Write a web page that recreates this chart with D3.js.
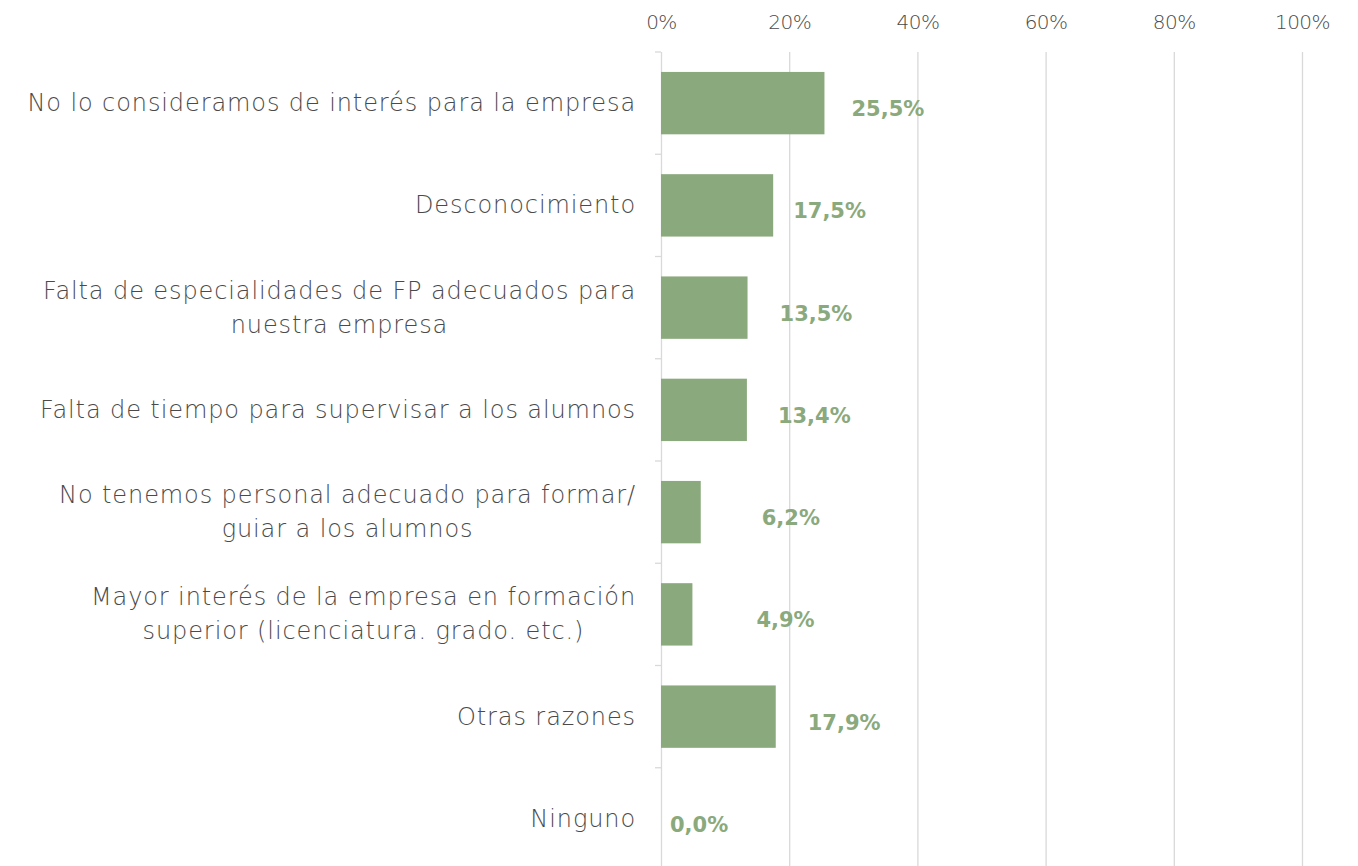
<!DOCTYPE html>
<html>
<head>
<meta charset="utf-8">
<script src="https://cdn.jsdelivr.net/npm/d3@7"></script>
<style>
  body { margin: 0; background: #fff; }
  svg { display: block; }
</style>
</head>
<body>
<svg></svg>
<script>
// Chart data
const categories = [
  "No lo consideramos de interés para la empresa",
  "Desconocimiento",
  "Falta de especialidades de FP adecuados para\nnuestra empresa",
  "Falta de tiempo para supervisar a los alumnos",
  "No tenemos personal adecuado para formar/\nguiar a los alumnos",
  "Mayor interés de la empresa en formación\nsuperior (licenciatura. grado. etc.)",
  "Otras razones",
  "Ninguno"
];
const values = [25.5, 17.5, 13.5, 13.4, 6.2, 4.9, 17.9, 0.0];
const xTicks = [0, 20, 40, 60, 80, 100];

// gap (px) between bar end and its label, labels were moved by hand in the original
const labelGap = [27, 20, 32, 31, 61, 64, 32, 9];

const width = 1358;
const height = 866;
const margin = { top: 52, right: 56, bottom: -4, left: 661 };

const font = "'Century Gothic', 'URW Gothic', 'DejaVu Sans', sans-serif";
const textColor = "#4a4a4a";
const gridColor = "#d9d9d9";
const barColor = "#8aa97c";

const svg = d3.select("svg").attr("width", width).attr("height", height);

// Scales
const x = d3.scaleLinear().domain([0, 100]).range([margin.left, width - margin.right]);
const y = d3
  .scaleBand()
  .domain(categories)
  .range([margin.top, height - margin.bottom])
  .paddingInner(0.39)
  .paddingOuter(0.195);

// Top axis with gridlines
const xAxis = svg
  .append("g")
  .attr("transform", `translate(0,${margin.top})`)
  .call(
    d3
      .axisTop(x)
      .tickValues(xTicks)
      .tickSize(-(height - margin.bottom - margin.top))
      .tickPadding(23)
      .tickFormat((d) => d + "%")
  );
xAxis.select(".domain").remove();
xAxis.selectAll(".tick line").attr("stroke", gridColor).attr("stroke-width", 1.3);
xAxis
  .selectAll(".tick text")
  .attr("fill", textColor)
  .style("font-family", font)
  .style("font-size", "20px")
  .style("font-weight", 200)
  .style("letter-spacing", "-0.5px");

// Left axis line with ticks at category boundaries
const gap = y.step() - y.bandwidth();
const bounds = categories.map((c) => y(c) - gap / 2);
bounds.push(y(categories[categories.length - 1]) + y.bandwidth() + gap / 2);
svg
  .append("g")
  .selectAll("line")
  .data(bounds)
  .join("line")
  .attr("x1", x(0) - 6)
  .attr("x2", x(0))
  .attr("y1", (d) => d)
  .attr("y2", (d) => d)
  .attr("stroke", gridColor)
  .attr("stroke-width", 1.3);

// Bars
svg
  .append("g")
  .selectAll("rect")
  .data(values)
  .join("rect")
  .attr("x", x(0))
  .attr("y", (d, i) => y(categories[i]))
  .attr("width", (d) => x(d) - x(0))
  .attr("height", y.bandwidth())
  .attr("fill", barColor);

// Value labels
svg
  .append("g")
  .selectAll("text")
  .data(values)
  .join("text")
  .attr("x", (d, i) => x(d) + labelGap[i])
  .attr("y", (d, i) => y(categories[i]) + y.bandwidth() / 2 + 13)
  .attr("fill", barColor)
  .style("font-family", font)
  .style("font-size", "21px")
  .style("font-weight", "bold")
  .text((d) => d.toFixed(1).replace(".", ",") + "%");

// Category labels: block right aligned at the axis, lines centred in the block
const lineHeight = 34;
const labelRight = x(0) - 25;
const catGroup = svg.append("g");
categories.forEach((c, i) => {
  const lines = c.split("\n");
  const t = catGroup
    .append("text")
    .attr("fill", textColor)
    .style("font-family", font)
    .style("font-size", "24px")
    .style("font-weight", 200)
    .style("letter-spacing", "0.9px")
    .attr("text-anchor", "middle");
  const cy = y(c) + y.bandwidth() / 2;
  lines.forEach((l, j) => {
    t.append("tspan")
      .attr("y", cy + 8 + (j - (lines.length - 1) / 2) * lineHeight)
      .text(l);
  });
  const w = d3.max(t.selectAll("tspan").nodes(), (n) => n.getComputedTextLength());
  t.selectAll("tspan").attr("x", labelRight - w / 2);
});
</script>
</body>
</html>
